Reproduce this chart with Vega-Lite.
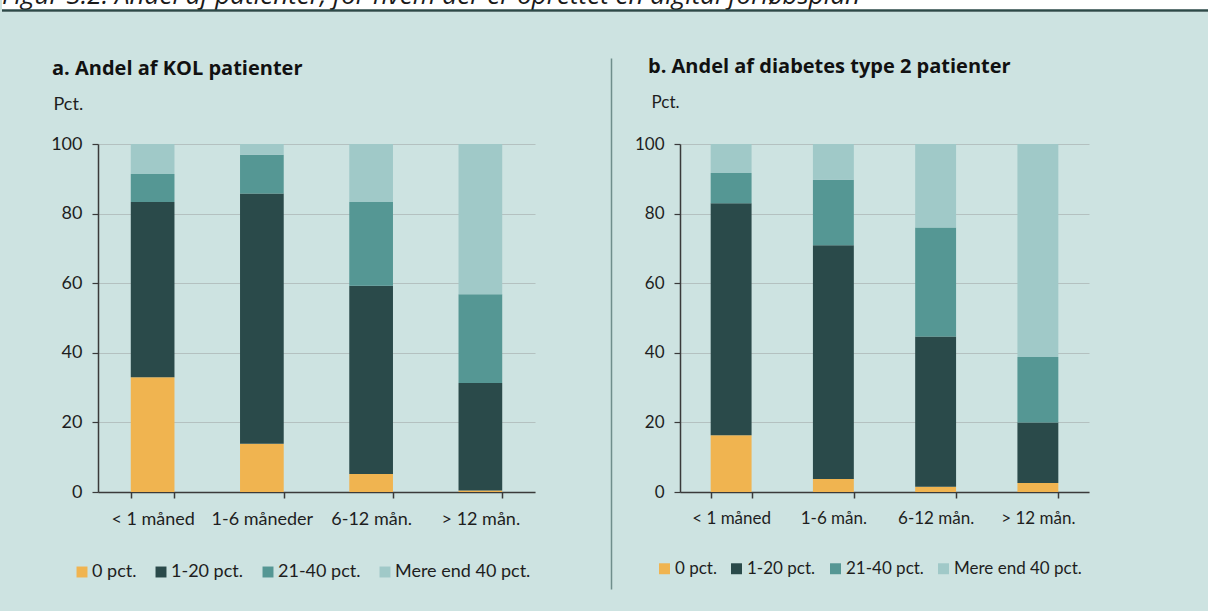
{
  "$schema": "https://vega.github.io/schema/vega-lite/v6.json",
  "background": "#cde3e1",
  "padding": 0,
  "config": {
    "font": "Lato",
    "view": {"stroke": null},
    "axis": {"labelFont": "Lato", "labelFontSize": 18, "labelColor": "#1e1e1e", "titleFont": "Lato", "titleFontWeight": "normal", "titleColor": "#1e1e1e", "titleFontSize": 18},
    "legend": {"labelFont": "Lato", "labelFontSize": 18, "labelColor": "#1e1e1e", "symbolType": "square", "symbolSize": 120, "symbolStrokeWidth": 0, "labelOffset": 1, "columnPadding": 15, "padding": 0, "direction": "horizontal", "orient": "none", "title": null},
    "title": {"font": "Open Sans", "fontSize": 20, "fontWeight": "bold", "color": "#111111", "anchor": "start", "frame": "group", "offset": 16}
  },
  "spacing": 45,
  "vconcat": [
    {
      "width": 1208,
      "height": 12,
      "view": {"fill": "white", "stroke": null},
      "data": {"values": [{"t": "Figur 3.2: Andel af patienter, for hvem der er oprettet en digital forløbsplan"}]},
      "layer": [
        {"mark": {"type": "text", "align": "left", "baseline": "alphabetic", "font": "Open Sans", "fontSize": 26, "fontStyle": "italic", "color": "#1a1a1a", "clip": true, "x": 0, "y": 4}, "encoding": {"text": {"field": "t"}}},
        {"mark": {"type": "rule", "color": "#2d4a48", "strokeWidth": 2.5}, "encoding": {"y": {"value": 10.5}}}
      ]
    },
    {
      "spacing": 47,
      "resolve": {"legend": {"color": "independent"}},
      "hconcat": [
        {"width": 1, "height": 1, "mark": {"type": "point", "opacity": 0, "size": 0}, "encoding": {}},
        {
          "spacing": 76,
          "resolve": {"legend": {"color": "independent"}},
          "hconcat": [
            {
              "width": 437,
              "height": 348,
              "title": {"text": "a. Andel af KOL patienter", "dx": -46},
              "data": {"values": [
                {"periode": "< 1 måned", "kategori": "0 pct.", "andel": 33.0},
                {"periode": "< 1 måned", "kategori": "1-20 pct.", "andel": 50.3},
                {"periode": "< 1 måned", "kategori": "21-40 pct.", "andel": 8.1},
                {"periode": "< 1 måned", "kategori": "Mere end 40 pct.", "andel": 8.6},
                {"periode": "1-6 måneder", "kategori": "0 pct.", "andel": 13.9},
                {"periode": "1-6 måneder", "kategori": "1-20 pct.", "andel": 71.9},
                {"periode": "1-6 måneder", "kategori": "21-40 pct.", "andel": 11.1},
                {"periode": "1-6 måneder", "kategori": "Mere end 40 pct.", "andel": 3.1},
                {"periode": "6-12 mån.", "kategori": "0 pct.", "andel": 5.2},
                {"periode": "6-12 mån.", "kategori": "1-20 pct.", "andel": 54.1},
                {"periode": "6-12 mån.", "kategori": "21-40 pct.", "andel": 24.0},
                {"periode": "6-12 mån.", "kategori": "Mere end 40 pct.", "andel": 16.7},
                {"periode": "> 12 mån.", "kategori": "0 pct.", "andel": 0.4},
                {"periode": "> 12 mån.", "kategori": "1-20 pct.", "andel": 30.9},
                {"periode": "> 12 mån.", "kategori": "21-40 pct.", "andel": 25.5},
                {"periode": "> 12 mån.", "kategori": "Mere end 40 pct.", "andel": 43.2}
              ]},
              "mark": {"type": "bar"},
              "encoding": {
                "x": {"field": "periode", "type": "nominal", "sort": null,
                  "scale": {"paddingInner": 0.6, "paddingOuter": 0.3},
                  "axis": {"title": null, "labelAngle": 0, "tickBand": "extent", "domainColor": "#3a3a3a", "domainWidth": 1.5, "tickColor": "#3a3a3a", "tickSize": 6, "tickWidth": 1.5, "labelPadding": 12, "grid": false}},
                "y": {"field": "andel", "type": "quantitative", "stack": "zero",
                  "scale": {"domain": [0, 100], "nice": false},
                  "axis": {"values": [0, 20, 40, 60, 80, 100], "title": "Pct.", "titleAngle": 0, "titleAlign": "left", "titleBaseline": "middle", "titleX": -45, "titleY": -40, "grid": true, "gridColor": "#b4c1c0", "gridWidth": 1.2, "domainColor": "#3a3a3a", "domainWidth": 1.5, "tickColor": "#3a3a3a", "tickSize": 6, "tickWidth": 1.2, "labelPadding": 10}},
                "order": {"field": "kategori", "type": "nominal", "sort": "ascending"},
                "color": {"field": "kategori", "type": "nominal",
                  "sort": ["0 pct.", "1-20 pct.", "21-40 pct.", "Mere end 40 pct."],
                  "scale": {"domain": ["0 pct.", "1-20 pct.", "21-40 pct.", "Mere end 40 pct."], "range": ["#f0b450", "#2a4a4a", "#559794", "#a0c9c8"]},
                  "legend": {"legendX": -25, "legendY": 419}}
              }
            },
            {
              "spacing": 22,
              "resolve": {"legend": {"color": "independent"}},
              "hconcat": [
                {
                  "width": 1,
                  "height": 445,
                  "data": {"values": [{"v": 0}, {"v": 1}]},
                  "mark": {"type": "point", "opacity": 0, "size": 0},
                  "encoding": {
                    "y": {"field": "v", "type": "quantitative",
                      "scale": {"domain": [0, 1], "range": [445, -86], "nice": false, "zero": false},
                      "axis": {"title": null, "labels": false, "ticks": false, "grid": false, "minExtent": 0, "maxExtent": 0, "domainColor": "#6f8e8c", "domainWidth": 1.5}}
                  }
                },
                {
                  "width": 409,
                  "height": 348,
                  "title": {"text": "b. Andel af diabetes type 2 patienter", "dx": -32},
                  "data": {"values": [
                    {"periode": "< 1 måned", "kategori": "0 pct.", "andel": 16.3},
                    {"periode": "< 1 måned", "kategori": "1-20 pct.", "andel": 66.7},
                    {"periode": "< 1 måned", "kategori": "21-40 pct.", "andel": 8.7},
                    {"periode": "< 1 måned", "kategori": "Mere end 40 pct.", "andel": 8.3},
                    {"periode": "1-6 mån.", "kategori": "0 pct.", "andel": 3.7},
                    {"periode": "1-6 mån.", "kategori": "1-20 pct.", "andel": 67.2},
                    {"periode": "1-6 mån.", "kategori": "21-40 pct.", "andel": 18.8},
                    {"periode": "1-6 mån.", "kategori": "Mere end 40 pct.", "andel": 10.3},
                    {"periode": "6-12 mån.", "kategori": "0 pct.", "andel": 1.5},
                    {"periode": "6-12 mån.", "kategori": "1-20 pct.", "andel": 43.2},
                    {"periode": "6-12 mån.", "kategori": "21-40 pct.", "andel": 31.3},
                    {"periode": "6-12 mån.", "kategori": "Mere end 40 pct.", "andel": 24.0},
                    {"periode": "> 12 mån.", "kategori": "0 pct.", "andel": 2.6},
                    {"periode": "> 12 mån.", "kategori": "1-20 pct.", "andel": 17.4},
                    {"periode": "> 12 mån.", "kategori": "21-40 pct.", "andel": 18.8},
                    {"periode": "> 12 mån.", "kategori": "Mere end 40 pct.", "andel": 61.2}
                  ]},
                  "mark": {"type": "bar"},
                  "encoding": {
                    "x": {"field": "periode", "type": "nominal", "sort": null,
                      "scale": {"paddingInner": 0.6, "paddingOuter": 0.3},
                      "axis": {"title": null, "labelAngle": 0, "labelFontSize": 17, "tickBand": "extent", "domainColor": "#3a3a3a", "domainWidth": 1.5, "tickColor": "#3a3a3a", "tickSize": 6, "tickWidth": 1.5, "labelPadding": 12, "grid": false}},
                    "y": {"field": "andel", "type": "quantitative", "stack": "zero",
                      "scale": {"domain": [0, 100], "nice": false},
                      "axis": {"values": [0, 20, 40, 60, 80, 100], "labelFontSize": 17, "title": "Pct.", "titleFontSize": 17, "titleAngle": 0, "titleAlign": "left", "titleBaseline": "middle", "titleX": -29, "titleY": -42, "grid": true, "gridColor": "#b4c1c0", "gridWidth": 1.2, "domainColor": "#3a3a3a", "domainWidth": 1.5, "tickColor": "#3a3a3a", "tickSize": 6, "tickWidth": 1.2, "labelPadding": 10}},
                    "order": {"field": "kategori", "type": "nominal", "sort": "ascending"},
                    "color": {"field": "kategori", "type": "nominal",
                      "sort": ["0 pct.", "1-20 pct.", "21-40 pct.", "Mere end 40 pct."],
                      "scale": {"domain": ["0 pct.", "1-20 pct.", "21-40 pct.", "Mere end 40 pct."], "range": ["#f0b450", "#2a4a4a", "#559794", "#a0c9c8"]},
                      "legend": {"legendX": -24, "legendY": 416, "labelFontSize": 17, "columnPadding": 11, "labelOffset": 2}}
                  }
                }
              ]
            }
          ]
        }
      ]
    }
  ]
}
